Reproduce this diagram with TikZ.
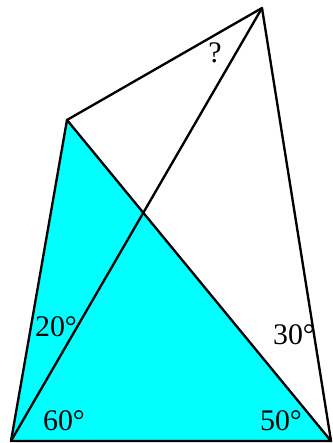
\documentclass[tikz,border=0pt]{standalone}
\usepackage{fontspec}
\setmainfont{Liberation Serif}
\definecolor{aqua}{RGB}{0,255,255}
\tikzset{
  edge/.style={line width=2pt, line join=round, line cap=round},
  anglab/.style={font=\fontsize{25.5}{30}\selectfont, inner sep=0pt},
}

\begin{document}
\begin{tikzpicture}[x=0.3mm, y=-0.3mm]
  \useasboundingbox (0,0) rectangle (332,443);
  % the four corners
  \coordinate (A) at (11,441);
  \coordinate (B) at (331,441);
  \coordinate (C) at (67,120);
  \coordinate (D) at (262,8);
  % shaded triangle
  \fill[aqua] (A) -- (C) -- (B) -- cycle;
  \draw[edge] (A) -- (B) -- (C) -- cycle;
  \draw[edge] (C) -- (D) -- (B);
  \draw[edge] (A) -- (D);
  % angle labels
  \node[anglab] (a20) at (56,327) {20°};
  \node[anglab] (a60) at (64,421) {60°};
  \node[anglab] (a50) at (281,421) {50°};
  \node[anglab] (a30) at (294,335) {30°};
  \node[anglab] (q) at (215,53) {?};
\end{tikzpicture}
\end{document}
